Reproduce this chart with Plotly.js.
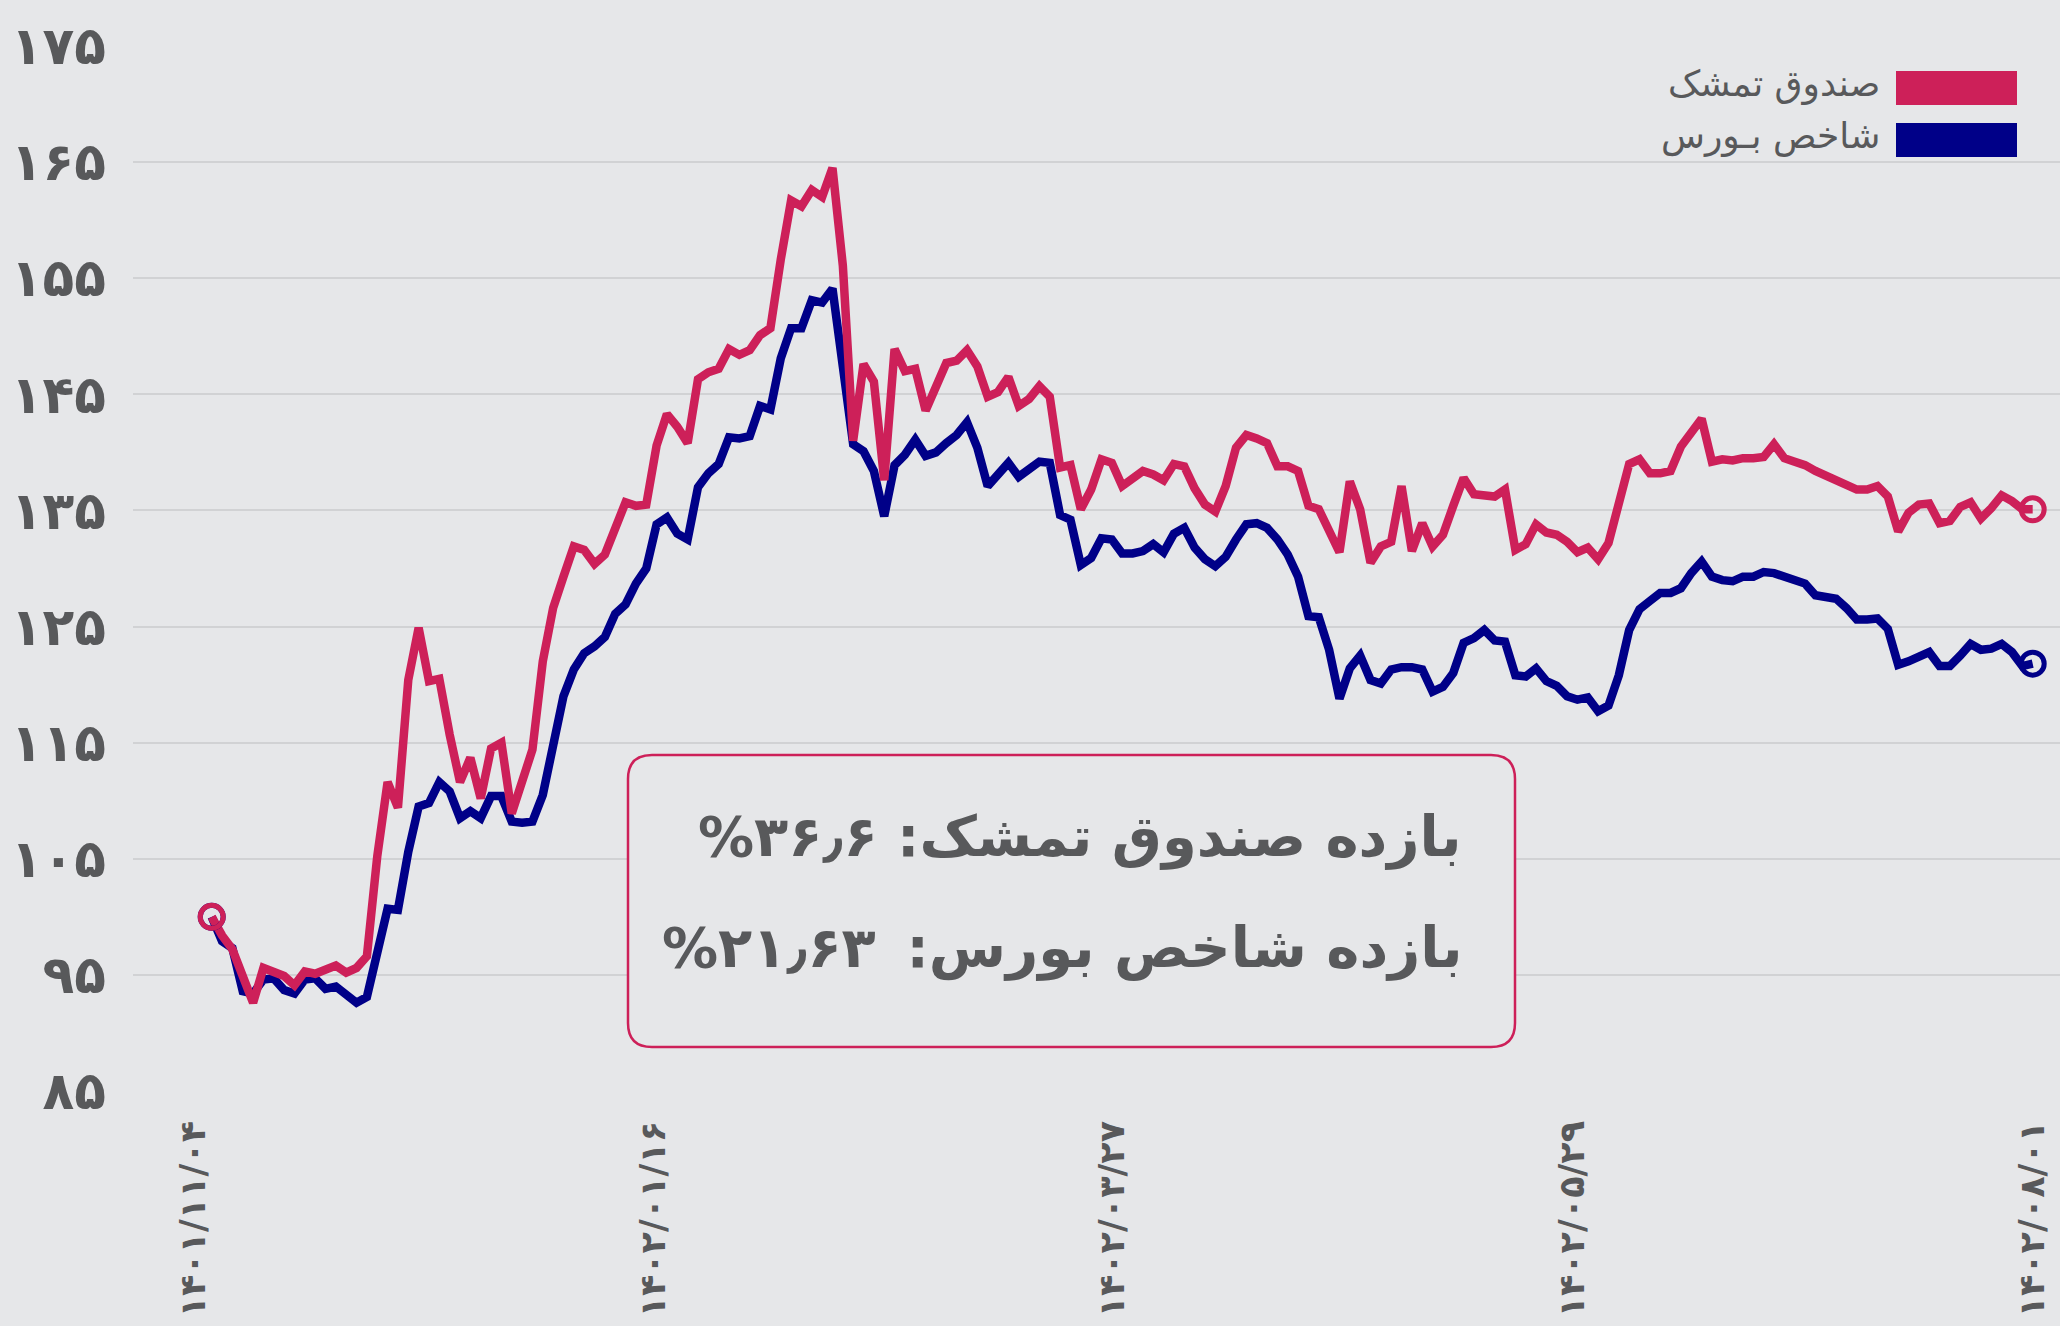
<!DOCTYPE html>
<html>
<head>
<meta charset="utf-8">
<script src="https://cdn.plot.ly/plotly-3.0.1.min.js"></script>
<style>html,body{margin:0;padding:0;background:#e6e7e9;}#chart{width:2060px;height:1326px;}</style>
</head>
<body>
<div id="chart"></div>
<script>
// ---- data ----
const fundName = 'صندوق تمشک';
const indexName = 'شاخص بـورس';

const fundValues = [
100.0,98.4,97.2,94.9,92.6,95.6,95.2,94.9,94.1,95.3,
95.1,95.4,95.8,95.2,95.6,96.6,105.2,111.6,109.4,120.4,
124.9,120.3,120.5,115.7,111.6,113.7,110.2,114.5,115.0,108.9,
111.7,114.4,122.0,126.6,129.3,131.9,131.6,130.4,131.2,133.3,
135.7,135.4,135.5,140.6,143.3,142.2,140.8,146.3,146.9,147.2,
148.9,148.4,148.8,150.1,150.7,156.6,161.7,161.2,162.6,162.0,
164.5,156.1,141.0,147.6,146.1,137.6,148.9,147.0,147.2,143.6,
145.7,147.7,147.9,148.8,147.4,144.8,145.2,146.5,144.0,144.6,
145.7,144.8,138.7,138.9,135.1,136.8,139.4,139.1,137.1,137.8,
138.4,138.1,137.6,139.0,138.8,136.9,135.5,134.9,137.1,140.4,
141.5,141.2,140.8,138.8,138.8,138.4,135.4,135.1,133.2,131.4,
137.5,135.1,130.5,131.9,132.3,137.1,131.5,133.9,131.9,132.9,
135.4,137.8,136.4,136.3,136.2,136.8,131.6,132.1,133.8,133.1,
132.9,132.3,131.4,131.8,130.8,132.2,135.4,139.0,139.4,138.2,
138.2,138.4,140.5,141.8,142.9,139.2,139.4,139.3,139.5,139.5,
139.6,140.7,139.5,139.2,138.9,138.4,138.0,137.8,137.4,136.8,
136.8,137.1,136.2,133.2,134.8,135.5,135.6,133.9,134.1,135.3,
135.7,134.3,135.2,136.3,135.8,135.1,135.1
];

const indexValues = [
100.0,97.9,97.3,93.6,93.4,94.6,94.7,93.7,93.4,94.6,
94.7,93.8,94.0,93.4,92.6,93.1,96.6,100.7,100.6,105.6,
109.5,109.8,111.6,110.8,108.5,109.1,108.5,110.4,110.4,108.2,
108.1,108.2,110.5,115.0,119.0,121.3,122.7,123.3,124.1,126.1,
126.9,128.7,130.0,133.8,134.4,133.0,132.5,137.0,138.2,139.0,
141.3,141.2,141.4,144.0,143.7,148.1,150.7,150.7,153.1,152.9,
154.1,147.4,140.7,140.1,138.4,134.5,138.9,139.8,141.1,139.7,
140.0,140.8,141.5,142.6,140.4,137.1,138.2,139.1,137.9,138.5,
139.2,139.1,134.6,134.2,130.3,130.9,132.6,132.5,131.3,131.3,
131.5,132.1,131.4,133.0,133.5,131.8,130.8,130.2,131.0,132.5,
133.8,133.9,133.5,132.5,131.2,129.3,125.9,125.8,123.0,118.8,
121.4,122.5,120.4,120.1,121.3,121.5,121.5,121.3,119.4,119.8,
121.0,123.6,124.0,124.7,123.8,123.7,120.8,120.7,121.4,120.3,
119.9,119.0,118.7,118.9,117.7,118.2,120.8,124.7,126.5,127.2,
127.9,127.9,128.3,129.6,130.6,129.3,129.0,128.9,129.3,129.3,
129.7,129.6,129.3,128.9,128.7,127.7,127.5,127.4,126.6,125.6,
125.6,125.7,124.8,121.7,122.0,122.4,122.8,121.6,121.6,122.5,
123.5,123.0,123.1,123.5,122.8,121.6,121.8
];

const xTickPositions = [-1.7, 42.7, 87.1, 131.5, 176];
const xTickLabels = ['۱۴۰۱/۱۱/۰۴', '۱۴۰۲/۰۱/۱۶', '۱۴۰۲/۰۳/۲۷', '۱۴۰۲/۰۵/۲۹', '۱۴۰۲/۰۸/۰۱'];
const yTickValues = [85, 95, 105, 115, 125, 135, 145, 155, 165, 175];
const yTickLabels = ['۸۵', '۹۵', '۱۰۵', '۱۱۵', '۱۲۵', '۱۳۵', '۱۴۵', '۱۵۵', '۱۶۵', '۱۷۵'];

const fundReturnText = 'بازده صندوق تمشک: ۳۶٫۶%';
const indexReturnText = 'بازده شاخص بورس: \u2009۲۱٫۶۳%';

// ---- styling ----
const RED = '#cd2059';
const BLUE = '#000088';
const TEXT = '#58595b';
const BG = '#e6e7e9';
const FONT = 'DejaVu Sans';

const W = 2060, H = 1326;
const M = {l: 133, r: 0, t: 46, b: 235};
const pw = W - M.l - M.r, ph = H - M.t - M.b;
const px = x => (x - M.l) / pw;          // pixel -> paper x
const py = y => (H - M.b - y) / ph;      // pixel -> paper y

const xs = fundValues.map((_, i) => i);
const last = xs.length - 1;

function roundRect(x0, y0, x1, y1, r) {
  const rx = r / pw, ry = r / ph;
  const a = px(x0), b = px(x1), top = py(y0), bot = py(y1);
  return `M ${a+rx},${top} L ${b-rx},${top} Q ${b},${top} ${b},${top-ry} ` +
         `L ${b},${bot+ry} Q ${b},${bot} ${b-rx},${bot} L ${a+rx},${bot} ` +
         `Q ${a},${bot} ${a},${bot+ry} L ${a},${top-ry} Q ${a},${top} ${a+rx},${top} Z`;
}

const RLE = '\u202B', PDF = '\u202C';

const traces = [
  {x: xs, y: indexValues, type: 'scatter', mode: 'lines', name: indexName,
   line: {color: BLUE, width: 8.5}, hoverinfo: 'skip'},
  {x: xs, y: fundValues, type: 'scatter', mode: 'lines', name: fundName,
   line: {color: RED, width: 8.5}, hoverinfo: 'skip'},
  {x: [0, last], y: [indexValues[0], indexValues[last]], type: 'scatter', mode: 'markers',
   marker: {symbol: 'circle-open', size: 23, color: BLUE, line: {width: 5, color: BLUE}}, hoverinfo: 'skip'},
  {x: [0, last], y: [fundValues[0], fundValues[last]], type: 'scatter', mode: 'markers',
   marker: {symbol: 'circle-open', size: 23, color: RED, line: {width: 5, color: RED}}, hoverinfo: 'skip'}
];

const layout = {
  width: W, height: H,
  margin: M,
  paper_bgcolor: BG, plot_bgcolor: BG,
  showlegend: false,
  font: {family: FONT, color: TEXT},
  xaxis: {
    range: [-7.606, 178.64], showgrid: false, zeroline: false, showline: false,
    tickmode: 'array', tickvals: xTickPositions, ticktext: xTickLabels,
    tickangle: -90, ticks: '', ticklabelstandoff: 22, automargin: false,
    tickfont: {family: FONT, size: 35, weight: 'bold', color: TEXT}
  },
  yaxis: {
    range: [85, 175], showgrid: true, gridcolor: '#d1d2d4', gridwidth: 2,
    zeroline: false, showline: false, ticks: '',
    tickmode: 'array', tickvals: yTickValues, ticktext: yTickLabels,
    ticklabelstandoff: 26, automargin: false,
    tickfont: {family: FONT, size: 52, weight: 'bold', color: TEXT}
  },
  shapes: [
    {type: 'path', xref: 'paper', yref: 'paper', path: roundRect(628, 755, 1515, 1047, 24),
     fillcolor: BG, line: {color: RED, width: 2.5}, layer: 'above'},
    {type: 'rect', xref: 'paper', yref: 'paper', x0: px(1896), x1: px(2017), y0: py(105), y1: py(71),
     fillcolor: RED, line: {width: 0}},
    {type: 'rect', xref: 'paper', yref: 'paper', x0: px(1896), x1: px(2017), y0: py(157), y1: py(123),
     fillcolor: BLUE, line: {width: 0}}
  ],
  annotations: [
    {xref: 'paper', yref: 'paper', x: px(1882), y: py(84), xanchor: 'right', yanchor: 'middle',
     text: RLE + fundName + PDF, showarrow: false, font: {family: FONT, size: 36, color: TEXT}},
    {xref: 'paper', yref: 'paper', x: px(1882), y: py(136), xanchor: 'right', yanchor: 'middle',
     text: RLE + indexName + PDF, showarrow: false, font: {family: FONT, size: 36, color: TEXT}},
    {xref: 'paper', yref: 'paper', x: px(1464), y: py(837), xanchor: 'right', yanchor: 'middle',
     text: RLE + fundReturnText + PDF, showarrow: false,
     font: {family: FONT, size: 56, weight: 'bold', color: TEXT}},
    {xref: 'paper', yref: 'paper', x: px(1464), y: py(948), xanchor: 'right', yanchor: 'middle',
     text: RLE + indexReturnText + PDF, showarrow: false,
     font: {family: FONT, size: 56, weight: 'bold', color: TEXT}}
  ]
};

Plotly.newPlot('chart', traces, layout, {staticPlot: true, displayModeBar: false});
</script>
</body>
</html>
